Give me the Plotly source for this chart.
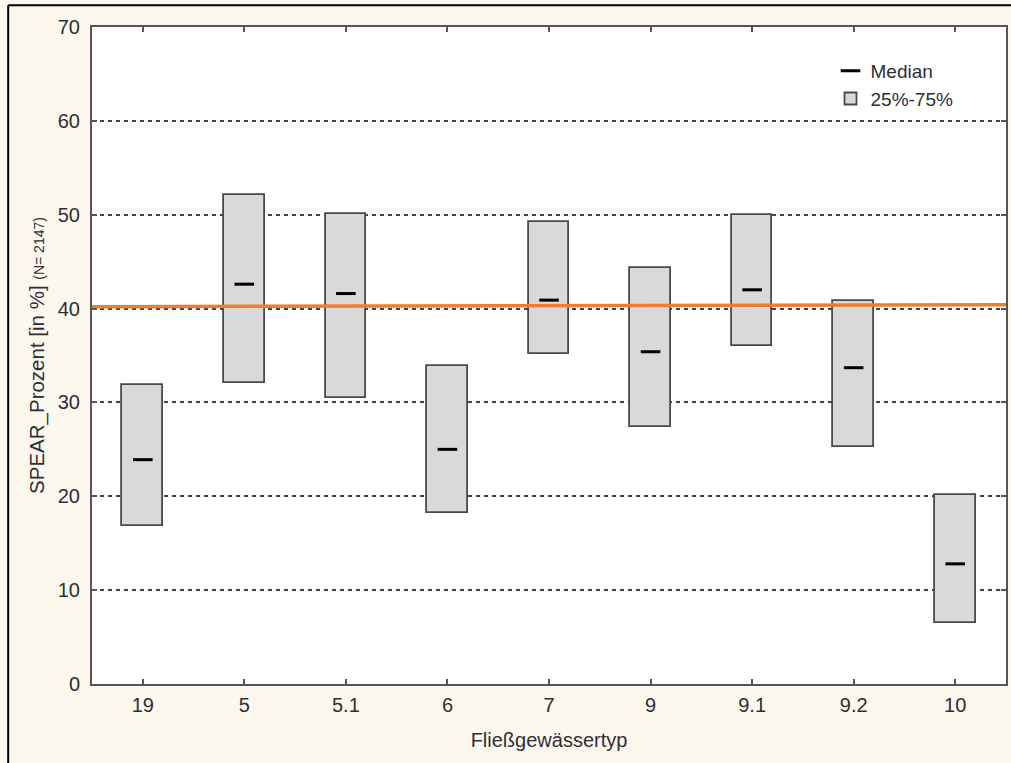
import plotly.graph_objects as go

# Stream types (Fließgewässertyp) and SPEAR quartiles / medians in percent
TYPES = ["19", "5", "5.1", "6", "7", "9", "9.1", "9.2", "10"]
Q1 = [16.8, 32.1, 30.5, 18.2, 35.2, 27.4, 36.0, 25.3, 6.5]
MEDIAN = [23.9, 42.6, 41.6, 25.0, 40.9, 35.4, 42.0, 33.7, 12.8]
Q3 = [31.9, 52.1, 50.1, 33.9, 49.2, 44.3, 50.0, 40.8, 20.1]

# Reference line (SPEAR threshold) at its two ends
REF_Y = [40.2, 40.4]
REF_X = [-0.5, 8.5]

Y_TICKS = [0, 10, 20, 30, 40, 50, 60, 70]

FONT = "Liberation Sans, Arial, sans-serif"
TXT = "#2e2e36"
AXIS = "#555555"

pos = list(range(len(TYPES)))

fig = go.Figure()

# Median markers (listed first so the legend shows them first)
fig.add_trace(go.Scatter(
    x=pos, y=MEDIAN, mode="markers", name="Median",
    marker=dict(symbol="line-ew", size=14, color="black",
                line=dict(color="black", width=3)),
    hoverinfo="y",
))

# Interquartile boxes drawn as floating bars
fig.add_trace(go.Bar(
    x=pos, base=Q1, y=[h - l for h, l in zip(Q3, Q1)], name="25%-75%",
    width=0.4,
    marker=dict(color="#d9d9d9", line=dict(color="#4a4a4a", width=1.8)),
))

# Orange threshold line
fig.add_trace(go.Scatter(
    x=REF_X, y=REF_Y, mode="lines", showlegend=False,
    line=dict(color="#ed7d31", width=3.5), hoverinfo="skip",
))

fig.update_layout(
    width=1011, height=763,
    margin=dict(l=92, r=3, t=27, b=79),
    paper_bgcolor="#fdf8ee",
    plot_bgcolor="white",
    font=dict(family=FONT, size=20, color=TXT),
    bargap=0,
    legend=dict(
        x=0.808, y=0.962, xanchor="left", yanchor="top",
        bgcolor="rgba(0,0,0,0)", font=dict(size=19, color=TXT),
        tracegroupgap=0, itemwidth=30,
    ),
    xaxis=dict(
        range=[-0.5, 8.5], tickvals=pos, ticktext=TYPES,
        showgrid=False, zeroline=False,
        showline=True, linecolor=AXIS, linewidth=2, mirror="ticks",
        ticks="inside", ticklen=5, tickcolor=AXIS, tickwidth=1.5,
        tickfont=dict(size=20, color=TXT), ticklabelstandoff=2,
        title=dict(text="Fließgewässertyp", font=dict(size=20, color=TXT), standoff=18),
    ),
    yaxis=dict(
        range=[0, 70], tickvals=Y_TICKS,
        showgrid=True, gridcolor="#444444", gridwidth=1.5, griddash="4px,4px",
        zeroline=False,
        showline=True, linecolor=AXIS, linewidth=2, mirror="ticks",
        ticks="inside", ticklen=5, tickcolor=AXIS, tickwidth=1.5,
        tickfont=dict(size=20, color=TXT), ticklabelstandoff=6,
        title=dict(
            text="SPEAR_Prozent [in %] <span style='font-size:14px'>(N= 2147)</span>",
            font=dict(size=20.5, color=TXT), standoff=8,
        ),
    ),
    shapes=[
        # outer frame edges
        dict(type="line", xref="paper", yref="paper",
             x0=-0.0917, x1=-0.0917, y0=1.033, y1=-0.2,
             line=dict(color="black", width=2)),
        dict(type="line", xref="paper", yref="paper",
             x0=-0.0917, x1=1.05, y0=1.033, y1=1.033,
             line=dict(color="black", width=2)),
    ],
)

fig.write_html("out.html")
